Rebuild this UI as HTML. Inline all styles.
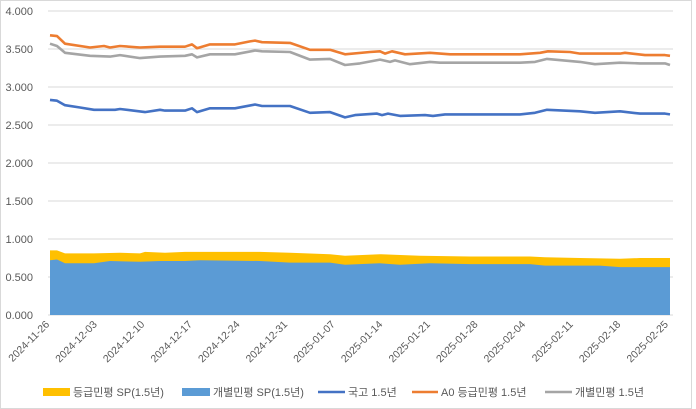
<!DOCTYPE html><html><head><meta charset="utf-8"><style>
body{margin:0;background:#fff;}
svg{display:block;font-family:"Liberation Sans","Noto Sans CJK KR",sans-serif;}
</style></head><body>
<svg id="c" width="696" height="409" xmlns="http://www.w3.org/2000/svg">
<rect x="0.5" y="0.5" width="691" height="408" fill="#fff" stroke="#d9d9d9"/>
<g id="grid" stroke="#d9d9d9" stroke-width="1"></g>
<g id="areas"></g>
<g id="lines" fill="none" stroke-width="2.6" stroke-linejoin="round"></g>
<g id="ylab" font-size="11" fill="#595959" text-anchor="end"></g>
<g id="xlab" font-size="10.5" fill="#595959" text-anchor="end"></g>
<g font-size="11" fill="#595959">
<rect x="43" y="388" width="27" height="8" fill="#ffc000"/><text x="73" y="396">등급민평 SP(1.5년)</text>
<rect x="182" y="388" width="28" height="8" fill="#5b9bd5"/><text x="213" y="396">개별민평 SP(1.5년)</text>
<line x1="318" y1="392" x2="345" y2="392" stroke="#4472c4" stroke-width="2.6"/><text x="348" y="396">국고 1.5년</text>
<line x1="412" y1="392" x2="438" y2="392" stroke="#ed7d31" stroke-width="2.6"/><text x="441" y="396">A0 등급민평 1.5년</text>
<line x1="545" y1="392" x2="572" y2="392" stroke="#a5a5a5" stroke-width="2.6"/><text x="575" y="396">개별민평 1.5년</text>
</g>
</svg>
<script>
const Y=v=>315-76*v;
const ns="http://www.w3.org/2000/svg";
function el(p,t,a,txt){const e=document.createElementNS(ns,t);for(const k in a)e.setAttribute(k,a[k]);if(txt)e.textContent=txt;document.getElementById(p).appendChild(e);return e;}
for(let i=0;i<=8;i++){const v=i*0.5,y=Y(v);el('grid','line',{x1:48,x2:673,y1:y,y2:y});el('ylab','text',{x:33,y:y+4},v.toFixed(3));}
const dates=["2024-11-26","2024-12-03","2024-12-10","2024-12-17","2024-12-24","2024-12-31","2025-01-07","2025-01-14","2025-01-21","2025-01-28","2025-02-04","2025-02-11","2025-02-18","2025-02-25"];
dates.forEach((d,i)=>{const x=47+i*47.6;el('xlab','text',{x:x+3,y:325,transform:`rotate(-45 ${x+3} 325)`},d);});
const blue=[[50,2.83],[57,2.82],[65,2.76],[80,2.73],[94,2.70],[115,2.70],[120,2.71],[145,2.67],[160,2.70],[165,2.69],[185,2.69],[192,2.72],[197,2.67],[210,2.72],[235,2.72],[255,2.77],[262,2.75],[290,2.75],[310,2.66],[330,2.67],[345,2.60],[355,2.63],[377,2.65],[382,2.63],[388,2.65],[400,2.62],[425,2.63],[433,2.62],[445,2.64],[520,2.64],[535,2.66],[547,2.70],[580,2.68],[595,2.66],[620,2.68],[640,2.65],[665,2.65],[670,2.64]];
const orange=[[50,3.68],[57,3.67],[65,3.57],[90,3.52],[104,3.54],[110,3.52],[120,3.54],[140,3.52],[160,3.53],[185,3.53],[192,3.56],[197,3.51],[210,3.56],[235,3.56],[250,3.60],[255,3.61],[262,3.59],[290,3.58],[310,3.49],[330,3.49],[345,3.43],[370,3.46],[380,3.47],[385,3.44],[392,3.47],[405,3.43],[430,3.45],[440,3.44],[450,3.43],[520,3.43],[540,3.45],[548,3.47],[570,3.46],[580,3.44],[590,3.44],[620,3.44],[625,3.45],[645,3.42],[665,3.42],[670,3.41]];
const grey=[[50,3.57],[57,3.54],[65,3.45],[90,3.41],[110,3.40],[120,3.42],[140,3.38],[160,3.40],[185,3.41],[192,3.43],[197,3.39],[210,3.43],[235,3.43],[255,3.48],[262,3.47],[290,3.46],[310,3.36],[330,3.37],[345,3.29],[360,3.31],[380,3.36],[390,3.33],[395,3.35],[410,3.30],[430,3.33],[440,3.32],[520,3.32],[535,3.33],[547,3.37],[580,3.33],[595,3.30],[620,3.32],[640,3.31],[665,3.31],[670,3.29]];
const bA=[[50,0.72],[57,0.73],[65,0.68],[94,0.68],[110,0.71],[140,0.70],[160,0.71],[185,0.71],[200,0.72],[260,0.71],[290,0.69],[330,0.69],[345,0.66],[380,0.68],[400,0.66],[430,0.68],[470,0.67],[530,0.67],[545,0.65],[600,0.65],[620,0.63],[670,0.63]];
const yA=[[50,0.85],[57,0.85],[65,0.81],[94,0.81],[120,0.82],[140,0.81],[145,0.83],[165,0.82],[185,0.83],[260,0.83],[290,0.82],[330,0.80],[345,0.78],[380,0.80],[420,0.78],[470,0.77],[530,0.77],[545,0.76],[580,0.75],[620,0.74],[640,0.75],[670,0.75]];
const pts=a=>a.map(p=>p[0]+','+Y(p[1]).toFixed(1)).join(' ');
el('areas','polygon',{points:'50,315 '+pts(yA)+' 670,315',fill:'#ffc000'});
el('areas','polygon',{points:'50,315 '+pts(bA)+' 670,315',fill:'#5b9bd5'});
el('lines','polyline',{points:pts(blue),stroke:'#4472c4'});
el('lines','polyline',{points:pts(orange),stroke:'#ed7d31'});
el('lines','polyline',{points:pts(grey),stroke:'#a5a5a5'});
</script>
</body></html>
